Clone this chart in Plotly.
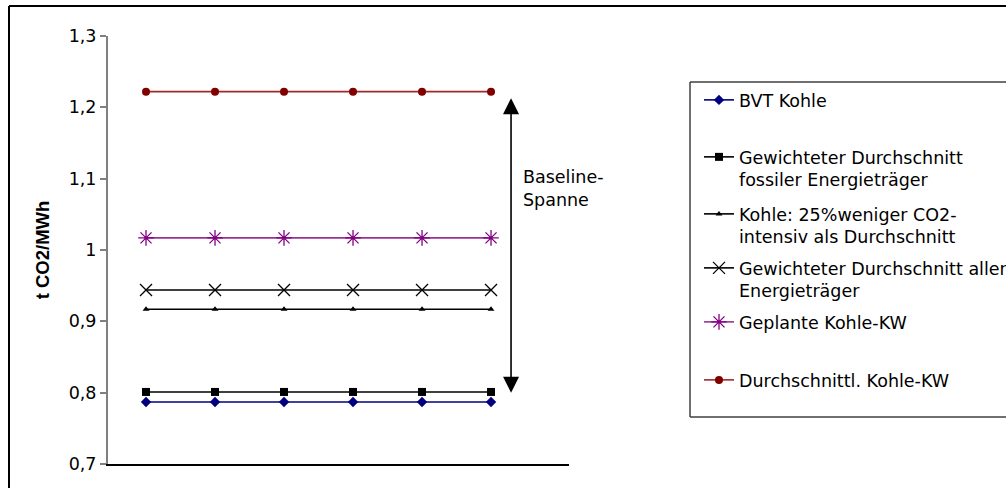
import plotly.graph_objects as go

# Categories (unlabelled time steps) and emission factors in t CO2/MWh
steps = [1, 2, 3, 4, 5, 6]
bvt_kohle = [0.787] * 6
gew_fossil = [0.801] * 6
kohle_25 = [0.917] * 6
gew_alle = [0.944] * 6
geplante_kw = [1.017] * 6
durchschn_kw = [1.222] * 6

series_names = [
    "BVT Kohle",
    "Gewichteter Durchschnitt<br>fossiler Energieträger",
    "Kohle: 25%weniger CO2-<br>intensiv als Durchschnitt",
    "Gewichteter Durchschnitt aller<br>Energieträger",
    "Geplante Kohle-KW",
    "Durchschnittl. Kohle-KW",
]
series_values = [bvt_kohle, gew_fossil, kohle_25, gew_alle, geplante_kw, durchschn_kw]

# Baseline span marked by the double arrow
span_low = 0.800
span_high = 1.215
span_pos = 6.29

y_ticks = [0.7, 0.8, 0.9, 1.0, 1.1, 1.2, 1.3]

FONT = "DejaVu Sans, sans-serif"
TITLE_FONT = "Arial, Liberation Sans, sans-serif"
FS = 17.5

styles = [
    dict(line=dict(color="#000080", width=1.6), marker=dict(symbol="diamond", size=8, color="#000080")),
    dict(line=dict(color="#000000", width=1.6), marker=dict(symbol="square", size=8, color="#000000")),
    dict(line=dict(color="#000000", width=1.6), marker=dict(symbol="triangle-up", size=6, color="#000000")),
    dict(line=dict(color="#000000", width=1.6),
         marker=dict(symbol="x-thin-open", size=12, color="#000000", line=dict(width=1.3, color="#000000"))),
    dict(line=dict(color="#993399", width=1.6),
         marker=dict(symbol="asterisk-open", size=13, color="#800080", line=dict(width=1.3, color="#800080"))),
    dict(line=dict(color="#A02828", width=1.6), marker=dict(symbol="circle", size=8, color="#800000")),
]

# Layout geometry (pixels)
W, H = 1006, 488
ML, MR, MT, MB = 108, 0, 36, 24
plot_w = 461
paper_w = W - ML - MR
paper_h = H - MT - MB


def px_x(px):
    return (px - ML) / paper_w


def px_y(py):
    return (H - MB - py) / paper_h


def cx(px):
    return px / W


def cy(py):
    return 1 - py / H


def frame_line(x0, y0, x1, y1, color, width):
    return dict(type="line", xref="paper", yref="paper",
                x0=px_x(x0), y0=px_y(y0), x1=px_x(x1), y1=px_y(y1),
                line=dict(color=color, width=width), layer="below")


fig = go.Figure()

legend_tops = [82, 139, 196, 250, 304, 362]
legend_ids = ["legend", "legend2", "legend3", "legend4", "legend5", "legend6"]

for name, vals, st, lid in zip(series_names, series_values, styles, legend_ids):
    fig.add_trace(go.Scatter(
        x=steps, y=vals, mode="lines+markers", name=name,
        line=st["line"], marker=st["marker"], legend=lid,
    ))

legend_layouts = {}
for lid, top in zip(legend_ids, legend_tops):
    legend_layouts[lid] = dict(
        xref="container", yref="container",
        x=cx(699), y=cy(top), xanchor="left", yanchor="top",
        font=dict(family=FONT, size=FS, color="#000000"),
        bgcolor="rgba(0,0,0,0)", borderwidth=0, valign="top",
        itemclick=False, itemdoubleclick=False,
    )

fig.update_layout(
    width=W, height=H,
    margin=dict(l=ML, r=MR, t=MT, b=MB, autoexpand=False),
    paper_bgcolor="white", plot_bgcolor="white",
    separators=", ",
    font=dict(family=FONT, size=FS, color="#000000"),
    showlegend=True,
    **legend_layouts,
    xaxis=dict(
        domain=[0, plot_w / paper_w],
        range=[0.449, 7.13], showticklabels=False, ticks="",
        showgrid=False, zeroline=False,
        showline=True, linecolor="#000000", linewidth=2,
    ),
    yaxis=dict(
        range=[0.7, 1.3], tickvals=y_ticks,
        showgrid=False, zeroline=False,
        showline=True, linecolor="#808080", linewidth=2,
        ticks="outside", ticklen=6, tickcolor="#808080", tickwidth=1.5,
        tickfont=dict(family=FONT, size=FS, color="#000000"),
        title=dict(text="<b>t CO2/MWh</b>", standoff=14,
                   font=dict(family=TITLE_FONT, size=18.5, color="#000000")),
    ),
    shapes=[
        # outer chart frame: top and left edges (the rest runs off the page)
        frame_line(9, 6, 1006, 6, "#000000", 2),
        frame_line(9, 6, 9, 488, "#000000", 2),
        # legend frame: top, left and bottom edges
        frame_line(690, 82, 1006, 82, "#404040", 1.5),
        frame_line(690, 82, 690, 417, "#404040", 1.5),
        frame_line(690, 417, 1006, 417, "#404040", 1.5),
    ],
    annotations=[
        dict(x=span_pos, y=span_low, ax=span_pos, ay=span_high,
             xref="x", yref="y", axref="x", ayref="y",
             text="", showarrow=True, arrowhead=2, arrowside="end+start",
             arrowsize=2, arrowwidth=1.6, arrowcolor="#000000"),
        dict(x=px_x(521), y=px_y(188), xref="paper", yref="paper",
             xanchor="left", yanchor="middle", align="left", showarrow=False,
             text="Baseline-<br>Spanne",
             font=dict(family=FONT, size=FS, color="#000000")),
    ],
)

# keep the page itself free of margins and scrollbars
page_css = (
    "document.documentElement.style.overflow='hidden';"
    "document.body.style.overflow='hidden';"
    "document.body.style.margin='0';"
)

fig.write_html("out.html", config={"displayModeBar": False}, post_script=page_css)
